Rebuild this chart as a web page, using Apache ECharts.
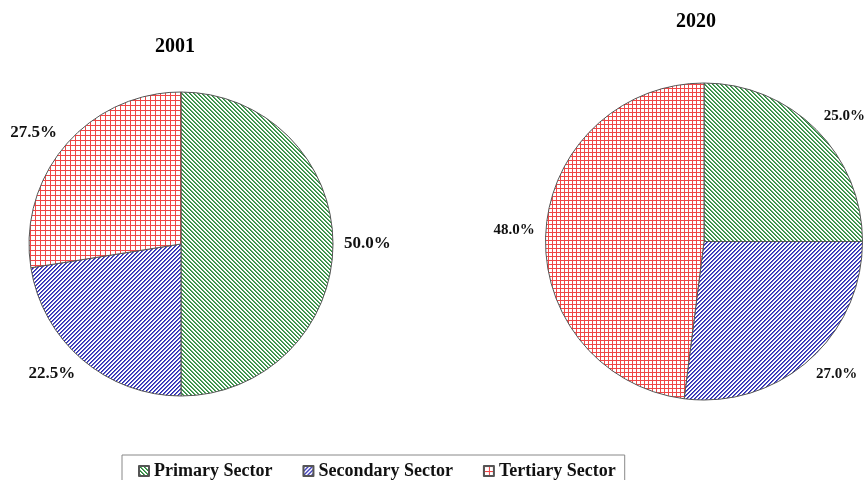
<!DOCTYPE html>
<html><head><meta charset="utf-8">
<script src="https://cdn.jsdelivr.net/npm/echarts@6/dist/echarts.min.js"></script>
<style>html,body{margin:0;padding:0;background:#fff}#c{width:866px;height:480px}</style>
</head><body><div id="c"></div>
<script>
const sectors = ['Primary Sector', 'Secondary Sector', 'Tertiary Sector'];
const years = ['2001', '2020'];
const values2001 = [50.0, 22.5, 27.5];
const values2020 = [25.0, 27.0, 48.0];

const FONT = 'Liberation Serif, Times New Roman, serif';
const pieGeo = [
  { cx: 181, cy: 244, r: 152, fs: 17, period: 4, grid: 5 },
  { cx: 704, cy: 241.5, r: 158.5, fs: 15, period: 4, grid: 4 }
];

function hexToRgb(h) { return [parseInt(h.slice(1,3),16), parseInt(h.slice(3,5),16), parseInt(h.slice(5,7),16)]; }
function makePattern(kind, period, color) {
  const c = document.createElement('canvas');
  c.width = period; c.height = period;
  const ctx = c.getContext('2d');
  const img = ctx.createImageData(period, period);
  const rgb = hexToRgb(color);
  for (let y = 0; y < period; y++) for (let x = 0; x < period; x++) {
    let a = 0;
    if (kind === 'grid') {
      a = (x === 0 || y === 0) ? 1 : 0;
    } else {
      const m = kind === 'back' ? (((x - y) % period) + period) % period : (x + y) % period;
      if (m === 0) a = 1;
      else if (m === 1) a = 0.75;
    }
    const i = (y * period + x) * 4;
    img.data[i] = Math.round(255 + (rgb[0] - 255) * a);
    img.data[i+1] = Math.round(255 + (rgb[1] - 255) * a);
    img.data[i+2] = Math.round(255 + (rgb[2] - 255) * a);
    img.data[i+3] = 255;
  }
  ctx.putImageData(img, 0, 0);
  return { image: c, repeat: 'repeat' };
}
const lineColors = ['#2a8a3a', '#2a2ab4', '#ef4646'];
const kinds = ['back', 'fwd', 'grid'];

function placer(si, vals) {
  return function (params) {
    const g = pieGeo[si];
    const total = vals.reduce((a, b) => a + b, 0);
    let before = 0;
    for (let i = 0; i < params.dataIndex; i++) before += vals[i];
    const mid = (before + vals[params.dataIndex] / 2) / total * 2 * Math.PI;
    const dx = Math.sin(mid), dy = -Math.cos(mid);
    const d = g.r + 11;
    const px = g.cx + d * dx, py = g.cy + d * dy;
    const w = params.labelRect.width, h = g.fs * 0.68;
    const cl = v => Math.max(-1, Math.min(1, v * 3));
    return { x: px + cl(dx) * w / 2, y: py + cl(dy) * h / 2, align: 'center', verticalAlign: 'middle' };
  };
}

function makeSeries(si, vals) {
  const g = pieGeo[si];
  return {
    type: 'pie',
    center: [g.cx, g.cy],
    radius: g.r,
    startAngle: 90,
    clockwise: true,
    avoidLabelOverlap: false,
    animation: false,
    emphasis: { disabled: true },
    itemStyle: { borderColor: '#555', borderWidth: 1 },
    label: {
      show: true, position: 'outside',
      fontFamily: FONT, fontWeight: 'bold', fontSize: g.fs, color: '#111',
      formatter: p => p.value.toFixed(1) + '%'
    },
    labelLine: { show: false },
    labelLayout: placer(si, vals),
    data: sectors.map((n, i) => ({
      name: n, value: vals[i],
      itemStyle: { color: makePattern(kinds[i], kinds[i] === 'grid' ? g.grid : g.period, lineColors[i]) }
    }))
  };
}

const chart = echarts.init(document.getElementById('c'), null, { renderer: 'canvas' });
chart.setOption({
  backgroundColor: '#fff',
  animation: false,
  title: [
    { text: years[0], left: 150, top: 32, textStyle: { fontFamily: FONT, fontWeight: 'bold', fontSize: 20, color: '#000' } },
    { text: years[1], left: 671, top: 7, textStyle: { fontFamily: FONT, fontWeight: 'bold', fontSize: 20, color: '#000' } }
  ],
  legend: {
    data: sectors,
    left: 122, top: 455,
    orient: 'horizontal',
    padding: [7, 9, 6, 16],
    itemGap: 30,
    itemWidth: 10, itemHeight: 10,
    icon: 'rect',
    borderColor: '#888', borderWidth: 1,
    selectedMode: false,
    textStyle: { fontFamily: FONT, fontWeight: 'bold', fontSize: 18, color: '#111' }
  },
  series: [makeSeries(0, values2001), makeSeries(1, values2020)]
});
</script>
</body></html>
